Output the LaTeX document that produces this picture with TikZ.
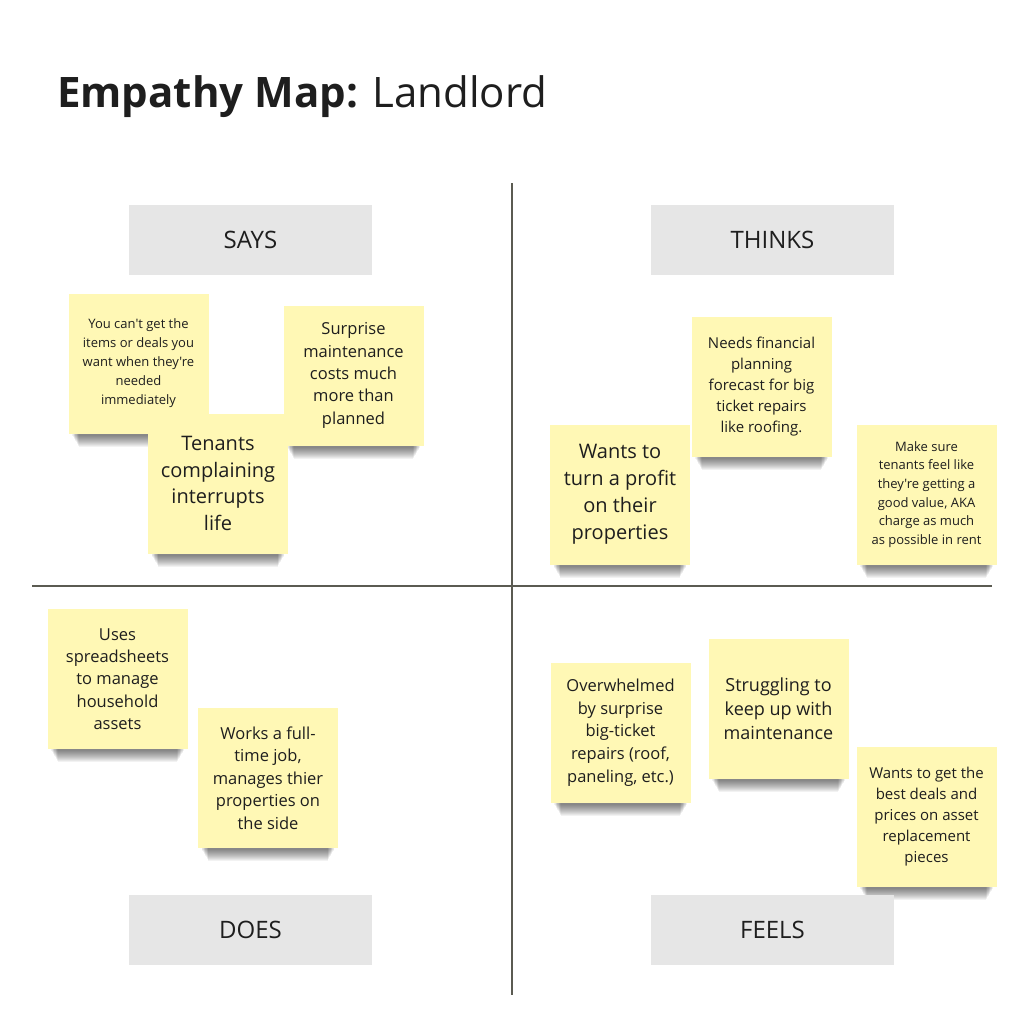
\documentclass[tikz,border=0pt]{standalone}
\usepackage{fontspec}
\setmainfont{Open Sans}[Ligatures=TeXOff]
\definecolor{sticky}{HTML}{FFF8B5}
\definecolor{boxgray}{HTML}{E6E6E6}
\definecolor{ink}{HTML}{1E1E1E}
\definecolor{axis}{HTML}{5B5B52}
\pgfdeclarelayer{background}
\pgfsetlayers{background,main}
\newcommand{\fs}[2]{\fontsize{#1}{#2}\selectfont}
\tikzset{
	note/.style={fill=sticky, minimum width=140pt, minimum height=140pt, inner sep=0pt, align=center, text=ink},
	tag/.style={fill=boxgray, minimum width=243pt, minimum height=70pt, inner sep=0pt, text=ink, font=\fs{24}{28}},
	axisline/.style={draw=axis, line width=1.5pt},
	notesh/.style={fill=black, opacity=.05}
}
\begin{document}
\begin{tikzpicture}[x=1pt,y=-1pt]
				\useasboundingbox (0,0) rectangle (1024,1022);
				\path
				(512,183) coordinate (T)
				(512,995) coordinate (B)
				(32,586) coordinate (L)
				(992,586) coordinate (R)
				;
				\draw[axisline] (T)--(B) (L)--(R)
				;
				\node[anchor=base west, inner sep=0pt, text=ink, font=\fs{42}{50}] (title) at (57,107) {\textbf{Empathy Map:} Landlord};
				\foreach \n/\x/\y/\t in {says/250.5/240/SAYS, thinks/772.5/240/THINKS, does/250.5/930/DOES, feels/772.5/930/FEELS} \node[tag] (\n) at (\x,\y) {\t}
				;
				\node[note, font=\fs{13}{19}] (n1) at (138.5,363.5) {You can't get the\\items or deals you\\want when they're\\needed\\immediately};
				\node[note, font=\fs{16.5}{22.3}] (n2) at (353.5,375.5) {Surprise\\maintenance\\costs much\\more than\\planned};
				\node[note, font=\fs{20}{26.7}] (n3) at (218,483.5) {Tenants\\complaining\\interrupts\\life};
				\node[note, font=\fs{15}{21}] (n4) at (761.5,386.5) {Needs financial\\planning\\forecast for big\\ticket repairs\\like roofing.};
				\node[note, font=\fs{20}{27}] (n5) at (620,494.5) {Wants to\\turn a profit\\on their\\properties};
				\node[note, font=\fs{13}{18.6}] (n6) at (926.5,494.5) {Make sure\\tenants feel like\\they're getting a\\good value, AKA\\charge as much\\as possible in rent};
				\node[note, font=\fs{16.5}{22.3}] (n7) at (117.5,679) {Uses\\spreadsheets\\to manage\\household\\assets};
				\node[note, font=\fs{16.5}{22.5}] (n8) at (268,778) {Works a full-\\time job,\\manages thier\\properties on\\the side};
				\node[note, font=\fs{16.5}{22.7}] (n9) at (620.5,732.5) {Overwhelmed\\by surprise\\big-ticket\\repairs (roof,\\paneling, etc.)};
				\node[note, font=\fs{18}{24}] (n10) at (778.5,708.5) {Struggling to\\keep up with\\maintenance};
				\node[note, font=\fs{15}{21}] (n11) at (926.5,816.5) {Wants to get the\\best deals and\\prices on asset\\replacement\\pieces};
				\begin{pgfonlayer}{background}
				\foreach \i in {1,...,11} \foreach \k in {0,...,11} \fill[notesh] ([xshift=4pt+0.6*\k pt,yshift=2pt]n\i.south west) rectangle ([xshift=-4pt-0.6*\k pt,yshift=-2pt-\k pt]n\i.south east)
				;
				\end{pgfonlayer}
\end{tikzpicture}
\end{document}
